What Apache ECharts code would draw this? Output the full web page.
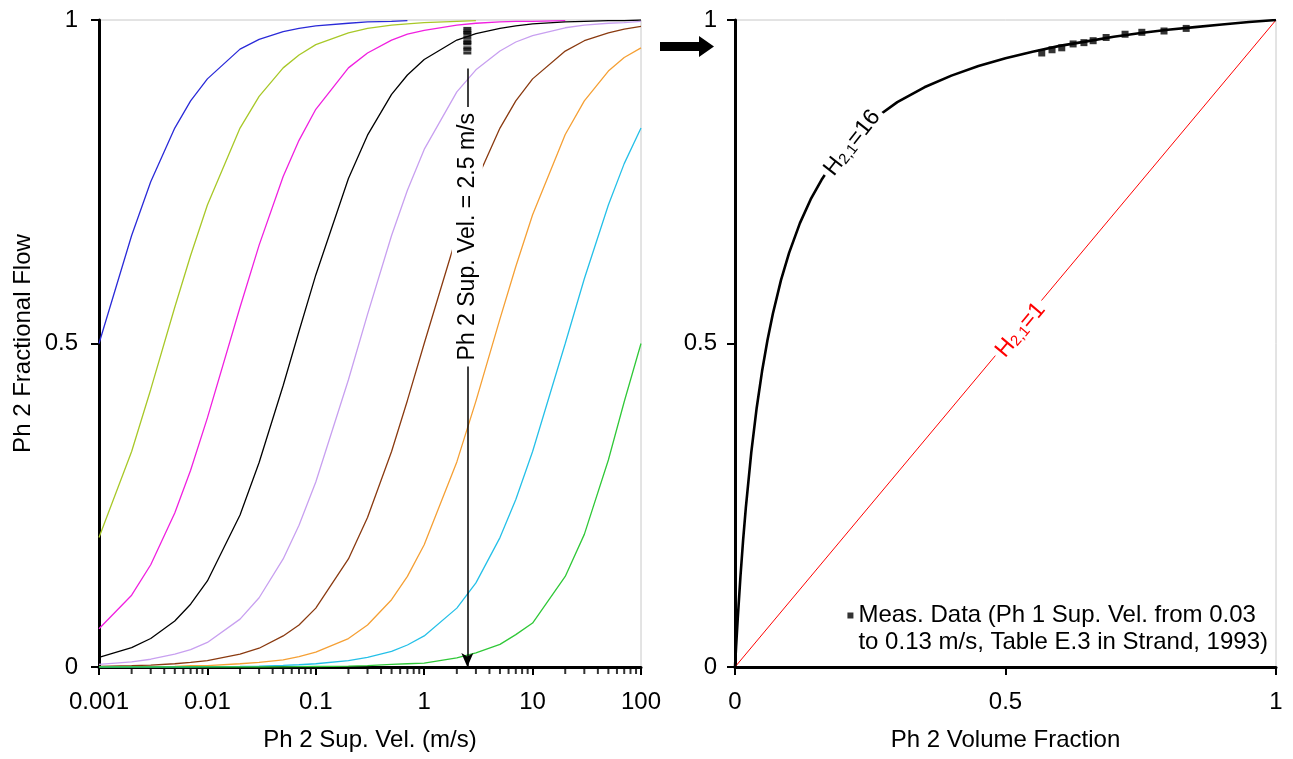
<!DOCTYPE html>
<html>
<head>
<meta charset="utf-8">
<script src="https://cdn.jsdelivr.net/npm/echarts@6/dist/echarts.min.js"></script>
<style>
html,body{margin:0;padding:0;background:#fff;}
#c{width:1293px;height:759px;}
</style>
</head>
<body>
<div id="c"></div>
<script>
// ---------- DATA ----------
// Left panel: Ph 2 superficial velocity (m/s), log axis
const xVel = [0.001,0.002,0.003,0.005,0.007,0.01,0.02,0.03,0.05,0.07,0.1,0.2,0.3,0.5,0.7,1,2,3,5,7,10,20,30,50,70,100];
const fBlue     = [0.5,0.667,0.75,0.833,0.875,0.909,0.955,0.970,0.982,0.987,0.991,0.995,0.997,0.998,0.999,null,null,null,null,null,null,null,null,null,null,null];
const fOlive    = [0.2,0.333,0.429,0.556,0.636,0.714,0.833,0.882,0.926,0.946,0.962,0.980,0.987,0.992,0.994,0.996,0.998,0.999,null,null,null,null,null,null,null,null];
const fMagenta  = [0.059,0.111,0.158,0.238,0.304,0.385,0.556,0.652,0.758,0.814,0.862,0.926,0.949,0.969,0.978,0.984,0.992,0.995,0.997,0.998,0.998,0.999,null,null,null,null];
const fBlack    = [0.015,0.030,0.044,0.071,0.097,0.133,0.235,0.316,0.435,0.519,0.606,0.755,0.822,0.885,0.915,0.939,0.969,0.979,0.987,0.991,0.994,0.997,0.998,0.999,0.999,1.0];
const fLavender = [0.004,0.008,0.012,0.020,0.027,0.038,0.074,0.107,0.167,0.219,0.286,0.444,0.545,0.667,0.737,0.800,0.889,0.923,0.952,0.966,0.976,0.988,0.992,0.995,0.996,0.998];
const fBrown    = [0.001,0.002,0.003,0.005,0.007,0.010,0.020,0.029,0.048,0.065,0.091,0.167,0.231,0.333,0.412,0.500,0.667,0.750,0.833,0.875,0.909,0.952,0.968,0.980,0.986,0.990];
const fOrange   = [0.0002,0.0005,0.0007,0.001,0.002,0.002,0.005,0.007,0.011,0.016,0.023,0.044,0.065,0.104,0.140,0.189,0.317,0.411,0.538,0.619,0.699,0.823,0.875,0.921,0.942,0.957];
const fCyan     = [0,0,0,0,0,0.0005,0.001,0.0015,0.0025,0.0035,0.005,0.010,0.015,0.024,0.034,0.048,0.091,0.130,0.200,0.259,0.333,0.500,0.600,0.714,0.778,0.833];
const fGreen    = [0,0,0,0,0,0,0,0,0.0003,0.0005,0.0008,0.0015,0.002,0.004,0.005,0.006,0.014,0.022,0.035,0.050,0.068,0.140,0.205,0.320,0.410,0.500];
const curveNames  = ['c1','c2','c3','c4','c5','c6','c7','c8','c9'];
const curveColors = ['#2a2ad8','#a8c828','#f020e0','#000000','#c8a0f0','#8a3a10','#f5a035','#25c0e8','#30c838'];
const curveData   = [fBlue,fOlive,fMagenta,fBlack,fLavender,fBrown,fOrange,fCyan,fGreen];
const leftXTicks = ['0.001','0.01','0.1','1','10','100'];
const minorTickX = [0.002,0.003,0.004,0.005,0.006,0.007,0.008,0.009,
                    0.02,0.03,0.04,0.05,0.06,0.07,0.08,0.09,
                    0.2,0.3,0.4,0.5,0.6,0.7,0.8,0.9,
                    2,3,4,5,6,7,8,9,
                    20,30,40,50,60,70,80,90];
const velMeas = 2.5;

// Right panel: Ph 2 volume fraction vs fractional flow
const vfH16 = [0,0.002,0.005,0.01,0.015,0.02,0.03,0.04,0.05,0.06,0.07,0.085,0.1,0.12,0.14,0.16,0.18,0.2,0.23,0.26,0.3,0.35,0.4,0.45,0.5,0.55,0.6,0.65,0.7,0.75,0.8,0.85,0.9,0.95,1];
const ffH16 = [0,0.031,0.074,0.139,0.196,0.246,0.331,0.400,0.457,0.505,0.546,0.598,0.640,0.686,0.723,0.753,0.778,0.800,0.827,0.849,0.873,0.896,0.914,0.929,0.941,0.951,0.960,0.967,0.974,0.980,0.985,0.989,0.993,0.997,1];
const vfH1 = [0,1];
const ffH1 = [0,1];
const measVf = [0.567,0.586,0.604,0.625,0.645,0.662,0.686,0.721,0.752,0.793,0.834];
const measFf = [0.949,0.954,0.957,0.963,0.965,0.968,0.973,0.978,0.981,0.983,0.987];
const legendLines = ['Meas. Data (Ph 1 Sup. Vel. from 0.03','to 0.13 m/s, Table E.3 in Strand, 1993)'];

// ---------- CHART ----------
const FONT = '"Liberation Sans", Arial, sans-serif';
const FS = 24;
const chart = echarts.init(document.getElementById('c'), null, {renderer:'canvas'});

function axisCommon(){
  return {
    axisLine:{show:true,onZero:false,lineStyle:{color:'#000',width:3}},
    axisTick:{show:true,inside:false,length:8,lineStyle:{color:'#000',width:2}},
    splitLine:{show:false},
    nameLocation:'middle',
    nameTextStyle:{fontFamily:FONT,fontSize:FS,color:'#000'},
  };
}

const series = [];
curveData.forEach((arr,i)=>{
  series.push({
    name:curveNames[i], type:'line', xAxisIndex:0, yAxisIndex:0,
    data: xVel.map((x,j)=>[x,arr[j]]).filter(d=>d[1]!==null),
    showSymbol:false, symbol:'none', smooth:false,
    lineStyle:{color:curveColors[i],width:1.3},
    z:2, silent:true
  });
});
// minor ticks of log axis
series.push({
  name:'minor', type:'scatter', xAxisIndex:0, yAxisIndex:0,
  data:minorTickX.map(x=>[x,0]),
  symbol:'rect', symbolSize:[2,6], symbolOffset:[0,4],
  itemStyle:{color:'#000'}, clip:false, z:10, silent:true
});
// measured points at 2.5 m/s (left) with arrow line
series.push({
  name:'measLeft', type:'scatter', xAxisIndex:0, yAxisIndex:0,
  data:measFf.map(f=>[velMeas,f]),
  symbol:'rect', symbolSize:[8,3],
  itemStyle:{color:'#000'}, z:6, silent:true,
  markLine:{
    silent:true, symbol:['none','arrow'], symbolSize:[9,14],
    lineStyle:{color:'#000',width:1.5,type:'solid'},
    label:{show:false},
    data:[[{coord:[velMeas,0.925]},{coord:[velMeas,0]}]]
  }
});
// right panel
series.push({
  name:'H1', type:'line', xAxisIndex:1, yAxisIndex:1,
  data:vfH1.map((x,i)=>[x,ffH1[i]]), showSymbol:false, symbol:'none',
  lineStyle:{color:'#ff0000',width:1}, z:2, silent:true
});
series.push({
  name:'H16', type:'line', xAxisIndex:1, yAxisIndex:1,
  data:vfH16.map((x,i)=>[x,ffH16[i]]), showSymbol:false, symbol:'none',
  lineStyle:{color:'#000',width:2.6}, z:3, silent:true
});
series.push({
  name:'Meas. Data', type:'scatter', xAxisIndex:1, yAxisIndex:1,
  data:measVf.map((x,i)=>[x,measFf[i]]),
  symbol:'rect', symbolSize:7, itemStyle:{color:'#000'}, z:5, silent:true
});

const option = {
  animation:false,
  backgroundColor:'#fff',
  textStyle:{fontFamily:FONT},
  grid:[
    {left:99,top:20,width:542,height:647,show:true,borderColor:'#c8c8c8',borderWidth:1,backgroundColor:'transparent'},
    {left:735,top:20,width:541,height:647,show:true,borderColor:'#c8c8c8',borderWidth:1,backgroundColor:'transparent'}
  ],
  xAxis:[
    Object.assign(axisCommon(),{
      gridIndex:0, type:'log', logBase:10, min:0.001, max:100, splitNumber:5,
      name:'Ph 2 Sup. Vel. (m/s)', nameGap:61,
      axisLabel:{margin:23,fontFamily:FONT,fontSize:FS,color:'#000',
        formatter:v=>leftXTicks[Math.round(Math.log10(v))+3]}
    }),
    Object.assign(axisCommon(),{
      gridIndex:1, type:'value', min:0, max:1, interval:0.5,
      name:'Ph 2 Volume Fraction', nameGap:61,
      axisLabel:{margin:23,fontFamily:FONT,fontSize:FS,color:'#000'}
    })
  ],
  yAxis:[
    Object.assign(axisCommon(),{
      gridIndex:0, type:'value', min:0, max:1, interval:0.5,
      name:'Ph 2 Fractional Flow', nameGap:64,
      axisLabel:{margin:21,fontFamily:FONT,fontSize:FS,color:'#000'}
    }),
    Object.assign(axisCommon(),{
      gridIndex:1, type:'value', min:0, max:1, interval:0.5,
      axisLabel:{margin:18,fontFamily:FONT,fontSize:FS,color:'#000'}
    })
  ],
  legend:{
    data:['Meas. Data'], right:20, top:597, orient:'vertical',
    icon:'path://M0,0h6v6h-6zM0,32.95h0.05v0.05h-0.05z', itemWidth:6, itemHeight:33,
    formatter:()=>legendLines.join('\n'),
    textStyle:{fontFamily:FONT,fontSize:24,color:'#000',lineHeight:27},
    selectedMode:false
  },
  series:series
};
chart.setOption(option);

// annotations positioned through the axes
const pLabel = chart.convertToPixel({xAxisIndex:0,yAxisIndex:0},[velMeas,0.665]);
const pH16 = chart.convertToPixel({xAxisIndex:1,yAxisIndex:1},[0.217,0.81]);
const pH1 = chart.convertToPixel({xAxisIndex:1,yAxisIndex:1},[0.528,0.521]);
const rad = d=>d*Math.PI/180;
chart.setOption({
  graphic:[
    {type:'text', x:pLabel[0], y:pLabel[1], rotation:rad(90), z:100,
     style:{text:'Ph 2 Sup. Vel. = 2.5 m/s', fontFamily:FONT, fontSize:23, fill:'#000',
            align:'center', verticalAlign:'middle', backgroundColor:'#fff', padding:[5,6,3,6]}},
    {type:'text', x:pH16[0], y:pH16[1], rotation:rad(52), z:100,
     style:{text:'{h|H}{s|2,1}{h|=16}', fill:'#000', align:'center', verticalAlign:'middle',
            backgroundColor:'#fff', padding:[0,4],
            rich:{h:{fontFamily:FONT,fontSize:23,fill:'#000'},s:{fontFamily:FONT,fontSize:15,fill:'#000',verticalAlign:'bottom'}}}},
    {type:'text', x:pH1[0], y:pH1[1], rotation:rad(50), z:100,
     style:{text:'{h|H}{s|2,1}{h|=1}', fill:'#ff0000', align:'center', verticalAlign:'middle',
            backgroundColor:'#fff', padding:[0,4],
            rich:{h:{fontFamily:FONT,fontSize:23,fill:'#ff0000'},s:{fontFamily:FONT,fontSize:15,fill:'#ff0000',verticalAlign:'bottom'}}}},
    {type:'polygon', z:100,
     shape:{points:[[660,42],[699,42],[699,36],[714,46.5],[699,57],[699,51],[660,51]]},
     style:{fill:'#000'}}
  ]
});
</script>
</body>
</html>
